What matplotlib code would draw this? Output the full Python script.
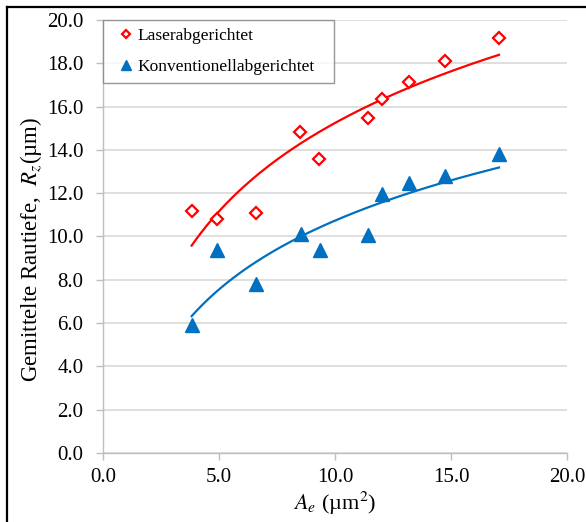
import numpy as np
import matplotlib.pyplot as plt
from matplotlib.ticker import FormatStrFormatter, MultipleLocator

plt.rcParams['font.family'] = ['Liberation Serif', 'DejaVu Serif']
plt.rcParams['mathtext.fontset'] = 'stix'

# Messwerte
ae_laser = [3.82, 4.91, 6.60, 8.49, 9.32, 11.44, 12.04, 13.19, 14.76, 17.07]
rz_laser = [11.18, 10.79, 11.10, 14.83, 13.56, 15.49, 16.33, 17.15, 18.11, 19.18]
ae_konv = [3.82, 4.91, 6.60, 8.52, 9.35, 11.44, 12.04, 13.19, 14.76, 17.07]
rz_konv = [5.91, 9.38, 7.79, 10.10, 9.38, 10.07, 11.95, 12.49, 12.81, 13.81]

rot = '#FF0000'
blau = '#0070C0'
grau = '#BFBFBF'

fig = plt.figure(figsize=(5.86, 5.22), dpi=100)
ax = fig.add_axes([0.1758, 0.1322, 0.7918, 0.8295])

# logarithmische Trendlinien
for xs, ys, c in [(ae_laser, rz_laser, rot), (ae_konv, rz_konv, blau)]:
    xs = np.array(xs)
    a, b = np.polyfit(np.log(xs), ys, 1)
    xf = np.linspace(xs.min(), xs.max(), 200)
    ax.plot(xf, a * np.log(xf) + b, color=c, lw=1.6, zorder=2)

ax.plot(ae_laser, rz_laser, linestyle='none', marker='D', ms=6.2,
        mfc='white', mec=rot, mew=1.6, label='Laserabgerichtet', zorder=3)
ax.plot(ae_konv, rz_konv, linestyle='none', marker='^', ms=9.5,
        mfc=blau, mec=blau, label='Konventionellabgerichtet', zorder=3)

ax.set_xlim(0, 20)
ax.set_ylim(0, 20)
ax.xaxis.set_major_locator(MultipleLocator(5))
ax.yaxis.set_major_locator(MultipleLocator(2))
ax.xaxis.set_major_formatter(FormatStrFormatter('%.1f'))
ax.yaxis.set_major_formatter(FormatStrFormatter('%.1f'))

ax.grid(axis='y', color='#D9D9D9', lw=1.2)
ax.set_axisbelow(True)
for s in ['top', 'right']:
    ax.spines[s].set_visible(False)
for s in ['left', 'bottom']:
    ax.spines[s].set_color(grau)
    ax.spines[s].set_linewidth(1.0)
ax.tick_params(axis='both', colors=grau, labelcolor='black', labelsize=15,
               length=5, width=1.0, direction='out')
ax.tick_params(axis='y', pad=9)
ax.tick_params(axis='x', pad=6)

ax.set_xlabel(r'$A_e$ (µm$^2$)', fontsize=16, labelpad=2)
ax.set_ylabel(r'Gemittelte Rautiefe,  $R_z$(µm)', fontsize=16.5, labelpad=3)
ax.yaxis.set_label_coords(-0.128, 0.47)

leg = ax.legend(loc='upper left', bbox_to_anchor=(0, 0, 0.498, 1.0),
                mode='expand', borderaxespad=0, fontsize=12.5,
                frameon=True, fancybox=False, markerscale=0.7,
                handlelength=1.8, handletextpad=-0.25, labelspacing=0.85,
                borderpad=0.45)
leg.get_frame().set_edgecolor('#7F7F7F')
leg.get_frame().set_linewidth(1.0)

# Rahmen der Abbildung
fig.add_artist(plt.Line2D([7 / 586, 1], [1 - 7 / 522, 1 - 7 / 522],
                          color='black', lw=1.6, transform=fig.transFigure))
fig.add_artist(plt.Line2D([7 / 586, 7 / 586], [0, 1 - 7 / 522],
                          color='black', lw=1.6, transform=fig.transFigure))

fig.savefig('out.png', dpi=100)
